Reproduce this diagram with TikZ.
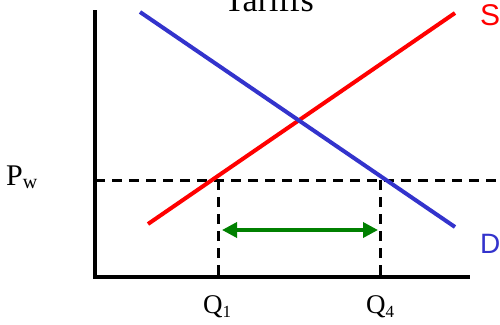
\documentclass[tikz,border=0pt]{standalone}
\usepackage{fontspec}
\setmainfont{Liberation Serif}
\newfontfamily\sansf{Liberation Sans}
\usetikzlibrary{arrows.meta}
\definecolor{sred}{RGB}{255,0,0}
\definecolor{dblue}{RGB}{51,51,204}
\definecolor{agreen}{RGB}{0,128,0}
\begin{document}
\begin{tikzpicture}[x=1pt,y=-1pt,
  axis/.style={line width=4pt},
  curve/.style={line width=4pt},
  dash line/.style={line width=3pt, dash pattern=on 10pt off 7pt},
  lbl/.style={inner sep=0pt, font=\fontsize{27}{30}\selectfont},
  sublbl/.style={font=\fontsize{17}{19}\selectfont}]
\clip (0,0) rectangle (500,324);
\useasboundingbox (0,0) rectangle (500,324);
% title (clipped as in reference)
\node[lbl, font=\fontsize{34}{38}\selectfont, anchor=base] (title) at (269,11) {Tariffs};
% axes
\coordinate (o) at (95,277);
\coordinate (ytop) at (95,10);
\coordinate (xend) at (470,277);
\draw[axis] (ytop) -- (o) -- (xend);
% world price
\coordinate (pwl) at (95,180);
\coordinate (pwr) at (500,180);
\draw[dash line] (pwl) -- (pwr);
% supply and demand
\coordinate (s0) at (148,224);
\coordinate (s1) at (455,13);
\coordinate (d0) at (140,12);
\coordinate (d1) at (455,227);
\draw[curve, sred] (s0) -- (s1);
\draw[curve, dblue] (d0) -- (d1);
% Q drops
\coordinate (q1t) at (218,180);
\coordinate (q1b) at (218,277);
\coordinate (q4t) at (380,180);
\coordinate (q4b) at (380,277);
\draw[dash line] (q1t) -- (q1b);
\draw[dash line] (q4t) -- (q4b);
% imports arrow
\coordinate (al) at (222,230);
\coordinate (ar) at (378,230);
\draw[agreen, line width=3.5pt, {Triangle[length=15pt,width=15pt]}-{Triangle[length=15pt,width=15pt]}] (al) -- (ar);
% labels
\node[lbl, font=\fontsize{30}{33}\selectfont, anchor=base west] (pw) at (6,185) {P\raisebox{-3pt}{\fontsize{20}{22}\selectfont w}};
\node[lbl, anchor=base west] (q1) at (203,313) {Q\raisebox{-4pt}{\fontsize{17}{19}\selectfont 1}};
\node[lbl, anchor=base west] (q4) at (366,313) {Q\raisebox{-4pt}{\fontsize{17}{19}\selectfont 4}};
\node[lbl, anchor=base west, text=sred, font=\sansf\fontsize{30}{32}\selectfont] (S) at (480,25) {S};
\node[lbl, anchor=base west, text=dblue, font=\sansf\fontsize{28}{30}\selectfont] (D) at (480,253) {D};
\end{tikzpicture}
\end{document}
